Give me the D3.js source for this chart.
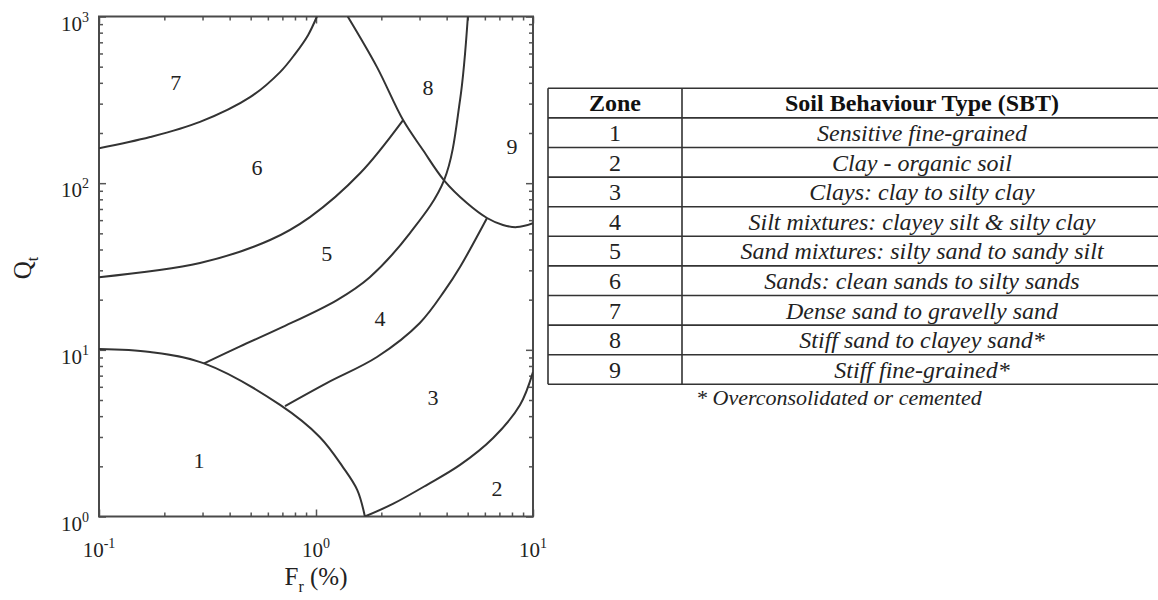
<!DOCTYPE html>
<html>
<head>
<meta charset="utf-8">
<script src="https://cdn.jsdelivr.net/npm/d3@7"></script>
<style>
  body { margin: 0; background: #fff; }
  svg { display: block; }
  text { font-family: "Liberation Serif", "Times New Roman", serif; fill: #222; }
</style>
</head>
<body>
<div class="chart"></div>
<script>
// boundary curves, [Fr %, Qt]
var zone1Edge = [[0.1, 10.1], [0.172, 9.7], [0.305, 8.3], [0.683, 4.67], [1.04, 3.0], [1.33, 1.98], [1.55, 1.44], [1.68, 1]];
var zone2Edge = [[1.68, 1], [2.26, 1.19], [3.25, 1.55], [4.61, 2.04], [6.55, 2.96], [8.71, 4.67], [10, 7.36]];
var zone3Edge = [[0.72, 4.6], [1.12, 6.32], [1.91, 9.06], [3.01, 14.5], [3.93, 22.8], [4.61, 31.4], [6.14, 61.8]];
var zone4Edge = [[0.305, 8.3], [0.447, 10.5], [0.683, 13.5], [1.25, 19.9], [1.77, 27.3], [2.71, 50.2], [3.89, 104], [4.61, 315], [5.01, 1000]];
var zone5Edge = [[0.1, 27.3], [0.292, 33.2], [0.614, 45.6], [0.938, 62.6], [1.6, 115], [2.52, 239]];
var zone6Edge = [[0.1, 162], [0.172, 189], [0.292, 233], [0.497, 328], [0.683, 464], [0.8, 595], [0.919, 773], [1.01, 1000]];
var zone8Edge = [[1.4, 1000], [1.91, 497], [2.52, 239], [3.11, 158], [3.89, 104], [4.96, 76], [6.14, 61.8], [7.27, 56.1], [8.43, 54.5], [10, 57.6]];

// zone numbers placed in the chart
var zoneIds = ["1", "2", "3", "4", "5", "6", "7", "8", "9"];
var zoneFr = [0.289, 6.83, 3.46, 1.97, 1.12, 0.534, 0.226, 3.28, 8.0];
var zoneQt = [2.18, 1.48, 5.2, 15.5, 38, 125, 404, 377, 167];

// table
var tableHeader = ["Zone", "Soil Behaviour Type (SBT)"];
var soilTypes = [
  "Sensitive fine-grained",
  "Clay - organic soil",
  "Clays: clay to silty clay",
  "Silt mixtures: clayey silt & silty clay",
  "Sand mixtures: silty sand to sandy silt",
  "Sands: clean sands to silty sands",
  "Dense sand to gravelly sand",
  "Stiff sand to clayey sand*",
  "Stiff fine-grained*"
];
var footnote = "* Overconsolidated or cemented";

var xDecades = [0.1, 1, 10];
var yDecades = [1, 10, 100, 1000];
var xExponents = ["-1", "0", "1"];
var yExponents = ["0", "1", "2", "3"];

var svgWidth = 1158;
var svgHeight = 600;

var plot = { left: 99, right: 533, top: 16.5, bottom: 516.5 };

var svg = d3.select(".chart")
  .append("svg")
  .attr("width", svgWidth)
  .attr("height", svgHeight);

var xScale = d3.scaleLog()
  .domain([0.1, 10])
  .range([plot.left, plot.right]);

var yScale = d3.scaleLog()
  .domain([1, 1000])
  .range([plot.bottom, plot.top]);

var pw = plot.right - plot.left;
var ph = plot.bottom - plot.top;

svg.append("clipPath")
  .attr("id", "plotClip")
  .append("rect")
  .attr("x", plot.left)
  .attr("y", plot.top)
  .attr("width", pw)
  .attr("height", ph);

// minor / major ticks (all pointing inward, on all four sides)
var xMinor = xScale.ticks().filter(d => xDecades.indexOf(d) < 0);
var yMinor = yScale.ticks().filter(d => yDecades.indexOf(d) < 0);

function styleAxis(g) {
  g.select(".domain").remove();
  g.selectAll("line").attr("stroke", "#555").attr("stroke-width", 1.5);
  g.selectAll("text").remove();
}

[[xDecades, 7], [xMinor, 4]].forEach(function(t) {
  svg.append("g")
    .attr("transform", `translate(0, ${plot.bottom})`)
    .call(d3.axisBottom(xScale).tickValues(t[0]).tickSize(-t[1]).tickFormat(""))
    .call(styleAxis);
  svg.append("g")
    .attr("transform", `translate(0, ${plot.top})`)
    .call(d3.axisTop(xScale).tickValues(t[0]).tickSize(-t[1]).tickFormat(""))
    .call(styleAxis);
});

[[yDecades, 7], [yMinor, 4]].forEach(function(t) {
  svg.append("g")
    .attr("transform", `translate(${plot.left}, 0)`)
    .call(d3.axisLeft(yScale).tickValues(t[0]).tickSize(-t[1]).tickFormat(""))
    .call(styleAxis);
  svg.append("g")
    .attr("transform", `translate(${plot.right}, 0)`)
    .call(d3.axisRight(yScale).tickValues(t[0]).tickSize(-t[1]).tickFormat(""))
    .call(styleAxis);
});

// frame
svg.append("rect")
  .attr("x", plot.left)
  .attr("y", plot.top)
  .attr("width", pw)
  .attr("height", ph)
  .attr("fill", "none")
  .attr("stroke", "#4a4a4a")
  .attr("stroke-width", 2);

// tick labels 10^n
xDecades.forEach(function(d, i) {
  var t = svg.append("text")
    .attr("x", xScale(d))
    .attr("y", plot.bottom + 40)
    .attr("text-anchor", "middle")
    .style("font-size", "21px");
  t.append("tspan").text("10");
  t.append("tspan").attr("dy", -9).style("font-size", "14px").text(xExponents[i]);
});

yDecades.forEach(function(d, i) {
  var t = svg.append("text")
    .attr("x", plot.left - 10)
    .attr("y", yScale(d) + 14)
    .attr("text-anchor", "end")
    .style("font-size", "21px");
  t.append("tspan").text("10");
  t.append("tspan").attr("dy", -9).style("font-size", "14px").text(yExponents[i]);
});

// axis titles
var xTitle = svg.append("text")
  .attr("x", xScale(1))
  .attr("y", 585)
  .attr("text-anchor", "middle")
  .style("font-size", "25px");
xTitle.append("tspan").text("F");
xTitle.append("tspan").attr("dy", 7).style("font-size", "16px").text("r");
xTitle.append("tspan").attr("dy", -7).text(" (%)");

var yTitle = svg.append("text")
  .attr("transform", "translate(31, 268) rotate(-90)")
  .attr("text-anchor", "middle")
  .style("font-size", "25px");
yTitle.append("tspan").text("Q");
yTitle.append("tspan").attr("dy", 7).style("font-size", "16px").text("t");

// boundary curves
var line = d3.line()
  .x(d => xScale(d[0]))
  .y(d => yScale(d[1]))
  .curve(d3.curveCatmullRom.alpha(0.5));

var edges = [zone1Edge, zone2Edge, zone3Edge, zone4Edge, zone5Edge, zone6Edge, zone8Edge];

svg.append("g")
  .attr("clip-path", "url(#plotClip)")
  .selectAll("path")
  .data(edges)
  .enter()
  .append("path")
  .attr("d", line)
  .attr("fill", "none")
  .attr("stroke", "#333")
  .attr("stroke-width", 2);

// zone numbers
svg.selectAll(".zoneLabel")
  .data(zoneIds)
  .enter()
  .append("text")
  .attr("class", "zoneLabel")
  .attr("x", (d, i) => xScale(zoneFr[i]))
  .attr("y", (d, i) => yScale(zoneQt[i]))
  .attr("dy", "0.35em")
  .attr("text-anchor", "middle")
  .style("font-size", "22px")
  .text(d => d);

// table on the right
var table = { left: 548, sep: 682, right: 1170, top: 88.3, rowH: 29.6 };
var nRows = soilTypes.length + 1;
var tg = svg.append("g");

for (var r = 0; r <= nRows; r++) {
  tg.append("line")
    .attr("x1", table.left)
    .attr("x2", table.right)
    .attr("y1", table.top + r * table.rowH)
    .attr("y2", table.top + r * table.rowH)
    .attr("stroke", "#333")
    .attr("stroke-width", 1.6);
}
[table.left, table.sep].forEach(function(x) {
  tg.append("line")
    .attr("x1", x)
    .attr("x2", x)
    .attr("y1", table.top)
    .attr("y2", table.top + nRows * table.rowH)
    .attr("stroke", "#333")
    .attr("stroke-width", 1.6);
});

var c1 = (table.left + table.sep) / 2;
var c2 = 922;

tableHeader.forEach(function(h, i) {
  tg.append("text")
    .attr("x", i === 0 ? c1 : c2)
    .attr("y", table.top + 23)
    .attr("text-anchor", "middle")
    .style("font-size", "24px")
    .style("font-weight", "bold")
    .style("fill", "#111")
    .text(h);
});

tg.selectAll(".zoneNum")
  .data(soilTypes)
  .enter()
  .append("text")
  .attr("class", "zoneNum")
  .attr("x", c1)
  .attr("y", (d, i) => table.top + (i + 1) * table.rowH + 23)
  .attr("text-anchor", "middle")
  .style("font-size", "24px")
  .text((d, i) => zoneIds[i]);

tg.selectAll(".soilType")
  .data(soilTypes)
  .enter()
  .append("text")
  .attr("class", "soilType")
  .attr("x", c2)
  .attr("y", (d, i) => table.top + (i + 1) * table.rowH + 23)
  .attr("text-anchor", "middle")
  .style("font-size", "24px")
  .style("font-style", "italic")
  .text(d => d);

tg.append("text")
  .attr("x", 696)
  .attr("y", table.top + nRows * table.rowH + 21)
  .style("font-size", "22px")
  .style("font-style", "italic")
  .text(footnote);
</script>
</body>
</html>
